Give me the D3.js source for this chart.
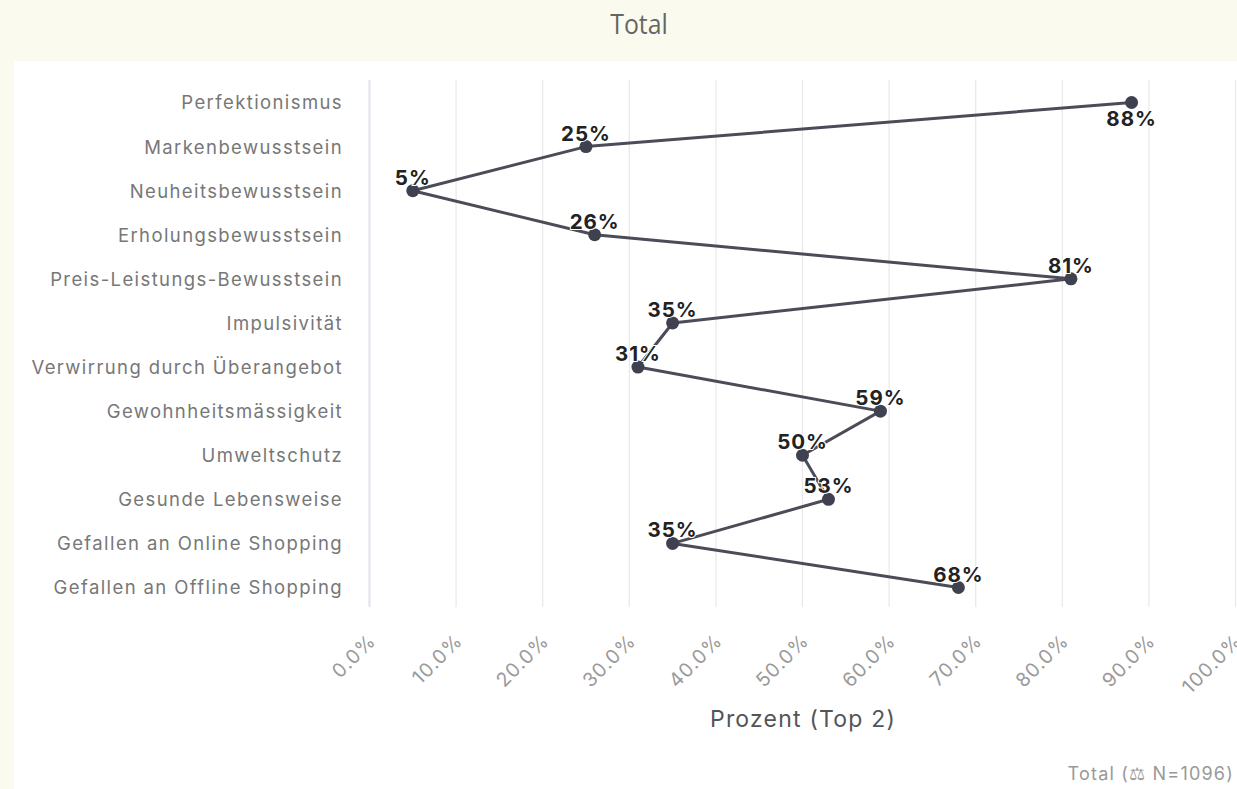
<!DOCTYPE html>
<html>
<head>
<meta charset="utf-8">
<script src="https://cdn.jsdelivr.net/npm/d3@7"></script>
<style>
  html, body { margin: 0; padding: 0; background: #fafaef; }
  svg { display: block; }
</style>
</head>
<body>
<svg id="chart" width="1237" height="789"></svg>
<script>
// Motive categories, top to bottom
const categories = [
  "Perfektionismus",
  "Markenbewusstsein",
  "Neuheitsbewusstsein",
  "Erholungsbewusstsein",
  "Preis-Leistungs-Bewusstsein",
  "Impulsivität",
  "Verwirrung durch Überangebot",
  "Gewohnheitsmässigkeit",
  "Umweltschutz",
  "Gesunde Lebensweise",
  "Gefallen an Online Shopping",
  "Gefallen an Offline Shopping"
];
// Share of respondents in the top-2 boxes (%)
const values = [88, 25, 5, 26, 81, 35, 31, 59, 50, 53, 35, 68];
// Labels placed below the point instead of above
const labelBelow = ["Perfektionismus"];
const xTicks = [0, 10, 20, 30, 40, 50, 60, 70, 80, 90, 100];
const chartTitle = "Total";
const axisTitle = "Prozent (Top 2)";
const footnote = "Total (\u2696 N=1096)";

const W = 1237, H = 789;
const svg = d3.select("#chart");

// white plotting panel over the cream page
svg.append("rect").attr("x", 14).attr("y", 61).attr("width", W - 14).attr("height", H - 61).attr("fill", "#ffffff");

svg.append("text")
  .attr("transform", "translate(639,34) scale(0.92,1)")
  .attr("text-anchor", "middle")
  .attr("font-family", "'Open Sans', sans-serif")
  .attr("font-size", 27)
  .attr("fill", "#666")
  .text(chartTitle);

const x = d3.scaleLinear().domain([0, 100]).range([369.5, 1235.5]);
const y = d3.scalePoint().domain(categories).range([102.5, 587.5]);

// vertical grid
const grid = svg.append("g");
grid.selectAll("line").data(xTicks).join("line")
  .attr("x1", d => x(d)).attr("x2", d => x(d))
  .attr("y1", 80).attr("y2", 607)
  .attr("stroke", d => d === 0 ? "#dfe2ec" : "#e8e8e8")
  .attr("stroke-width", d => d === 0 ? 2 : 1.2);

// x axis tick labels, rotated
const xAxis = d3.axisBottom(x).tickValues(xTicks).tickSize(0).tickFormat(d => d3.format(".1f")(d) + "%");
const gx = svg.append("g").attr("transform", "translate(0,622)").call(xAxis);
gx.select(".domain").remove();
gx.selectAll("text")
  .attr("font-family", "Inter, sans-serif")
  .attr("font-size", 19.5)
  .attr("letter-spacing", 1)
  .attr("fill", "#9a9a9a")
  .attr("text-anchor", "end")
  .attr("dy", 0)
  .attr("transform", "translate(5,18) rotate(-45)");

// y axis category labels
const yAxis = d3.axisLeft(y).tickSize(0).tickPadding(0);
const gy = svg.append("g").attr("transform", "translate(343,0)").call(yAxis);
gy.select(".domain").remove();
gy.selectAll("text")
  .attr("font-family", "Inter, sans-serif")
  .attr("font-size", 18.5)
  .attr("letter-spacing", 1.4)
  .attr("fill", "#777")
  .attr("dy", "0.35em");

// connecting line
const pts = categories.map((c, i) => ({ c, v: values[i] }));
const line = d3.line().x(d => x(d.v)).y(d => y(d.c));
svg.append("path").datum(pts)
  .attr("d", line)
  .attr("fill", "none")
  .attr("stroke", "#4b4c58")
  .attr("stroke-width", 3)
  .attr("stroke-linejoin", "round");

svg.append("g").selectAll("circle").data(pts).join("circle")
  .attr("cx", d => x(d.v)).attr("cy", d => y(d.c))
  .attr("r", 6.5)
  .attr("fill", "#3f4150");

// value labels
svg.append("g").selectAll("text").data(pts).join("text")
  .attr("x", d => x(d.v))
  .attr("y", d => labelBelow.includes(d.c) ? y(d.c) + 23 : y(d.c) - 6)
  .attr("text-anchor", "middle")
  .attr("font-family", "Inter, sans-serif")
  .attr("font-weight", 700)
  .attr("font-size", 20.5)
  .attr("letter-spacing", 1)
  .attr("fill", "#222")
  .attr("stroke", "#fff")
  .attr("stroke-width", 2)
  .attr("paint-order", "stroke")
  .text(d => d.v + "%");

svg.append("text")
  .attr("x", 803).attr("y", 727)
  .attr("text-anchor", "middle")
  .attr("font-family", "Inter, sans-serif")
  .attr("font-size", 23)
  .attr("letter-spacing", 1.2)
  .attr("fill", "#555")
  .text(axisTitle);

svg.append("text")
  .attr("x", 1234).attr("y", 780)
  .attr("text-anchor", "end")
  .attr("font-family", "Inter, sans-serif")
  .attr("font-size", 18)
  .attr("letter-spacing", 1.2)
  .attr("fill", "#999")
  .text(footnote);
</script>
</body>
</html>
